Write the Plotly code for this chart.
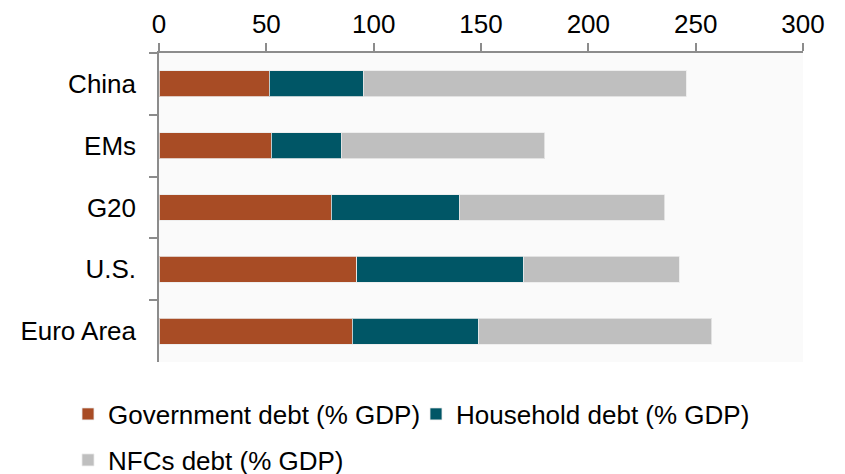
import plotly.graph_objects as go

categories = ["China", "EMs", "G20", "U.S.", "Euro Area"]
government_debt = [51.4, 52.3, 80.2, 92.1, 90.1]
household_debt = [43.7, 32.7, 59.7, 77.7, 58.8]
nfc_debt = [150.5, 94.7, 95.7, 72.6, 108.5]
x_ticks = [0, 50, 100, 150, 200, 250, 300]

FONT = "Liberation Sans, Arial, sans-serif"
W, H = 845, 474

fig = go.Figure()
series = [
    ("Government debt (% GDP)", government_debt, "#A84C25", "legend"),
    ("Household debt (% GDP)", household_debt, "#005666", "legend2"),
    ("NFCs debt (% GDP)", nfc_debt, "#BFBFBF", "legend3"),
]
for name, vals, col, lg in series:
    fig.add_trace(go.Bar(
        y=categories, x=vals, name=name, orientation="h",
        marker=dict(color=col, line=dict(color="rgba(235,235,235,0.8)", width=1)),
        legend=lg,
    ))

def leg(xpx, ypx):
    return dict(
        xref="container", yref="container",
        x=xpx / W, y=1 - ypx / H, xanchor="left", yanchor="middle",
        orientation="h", bgcolor="rgba(0,0,0,0)", borderwidth=0,
        font=dict(family=FONT, size=26, color="#000000"),
    )

fig.update_layout(
    width=W, height=H,
    margin=dict(l=159, r=42, t=53, b=112, autoexpand=False),
    barmode="stack", bargap=0.58,
    paper_bgcolor="#FFFFFF", plot_bgcolor="#FAFAFA",
    font=dict(family=FONT, size=26, color="#000000"),
    showlegend=True,
    legend=leg(68, 414),
    legend2=leg(416, 414),
    legend3=leg(68, 460),
    xaxis=dict(
        side="top", range=[0, 300], tickvals=x_ticks, automargin=False,
        showgrid=False, zeroline=False, showline=True,
        linecolor="#8C8C8C", linewidth=1.5,
        ticks="outside", ticklen=8, tickcolor="#8C8C8C", tickwidth=1.5,
        ticklabelstandoff=0,
        tickfont=dict(family=FONT, size=26, color="#000000"),
    ),
    yaxis=dict(
        type="category", autorange="reversed", automargin=False,
        showgrid=False, zeroline=False, showline=True,
        linecolor="#8C8C8C", linewidth=1.5,
        ticks="outside", ticklen=8, tickcolor="#8C8C8C", tickwidth=1.5,
        tickson="boundaries", ticklabelstandoff=16,
        tickfont=dict(family=FONT, size=26, color="#000000"),
    ),
)

fig.write_html(
    "out.html",
    config={"displayModeBar": False},
    post_script="document.body.style.margin='0';document.body.style.overflow='hidden';",
)
